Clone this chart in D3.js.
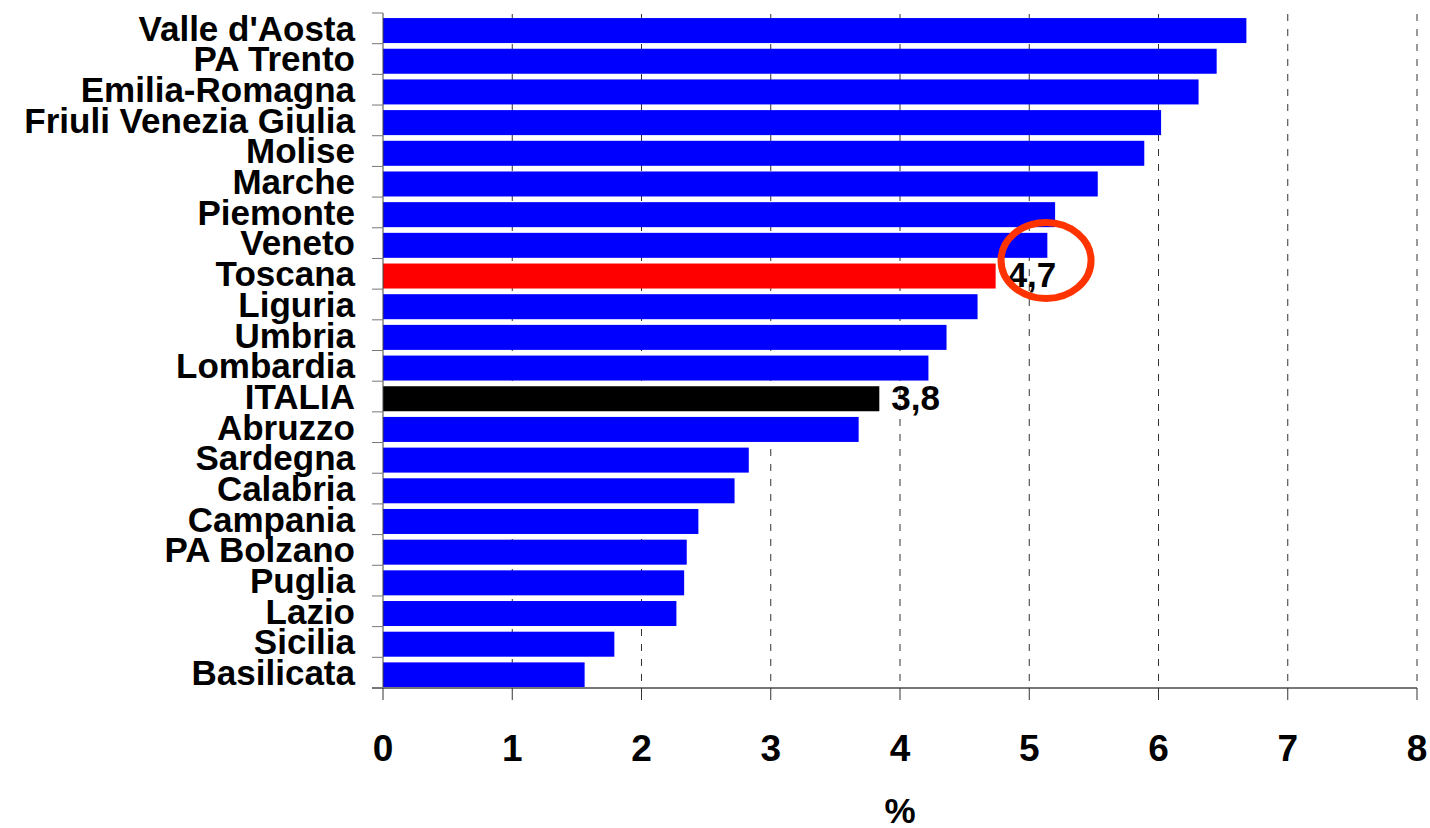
<!DOCTYPE html>
<html>
<head>
<meta charset="utf-8">
<script src="https://cdn.jsdelivr.net/npm/d3@7"></script>
<style>
  body { margin: 0; background: #fff; }
  svg { display: block; font-family: "Liberation Sans", Arial, sans-serif; }
</style>
</head>
<body>
<svg id="chart" width="1430" height="828"></svg>
<script>
// data
var regions = ["Valle d'Aosta", "PA Trento", "Emilia-Romagna", "Friuli Venezia Giulia", "Molise",
  "Marche", "Piemonte", "Veneto", "Toscana", "Liguria", "Umbria", "Lombardia", "ITALIA",
  "Abruzzo", "Sardegna", "Calabria", "Campania", "PA Bolzano", "Puglia", "Lazio", "Sicilia", "Basilicata"];
var values = [6.68, 6.45, 6.31, 6.02, 5.89, 5.53, 5.20, 5.14, 4.74, 4.60, 4.36, 4.22, 3.84,
  3.68, 2.83, 2.72, 2.44, 2.35, 2.33, 2.27, 1.79, 1.56];
var labelled = ["Toscana", "ITALIA"];
var xTicks = [0, 1, 2, 3, 4, 5, 6, 7, 8];

var data = regions.map(function(r, i) { return { name: r, value: values[i] }; });

var svg = d3.select("#chart"),
  plotLeft = 383, plotRight = 1417, plotTop = 13, plotBottom = 688;

var x = d3.scaleLinear().domain([0, 8]).range([plotLeft, plotRight]);
var y = d3.scaleBand().domain(regions).range([plotTop, plotBottom]).padding(0);
var bw = y.bandwidth();

function barColor(d) {
  if (d.name == "Toscana") return "#ff0000";
  if (d.name == "ITALIA") return "#000000";
  return "#0000ff";
}

// dashed gridlines
svg.append("g")
  .selectAll("line")
  .data(xTicks.slice(1))
  .enter()
  .append("line")
  .attr("x1", function(d) { return x(d); })
  .attr("x2", function(d) { return x(d); })
  .attr("y1", plotTop + 1)
  .attr("y2", plotBottom)
  .attr("stroke", "#333")
  .attr("stroke-width", 1)
  .attr("stroke-dasharray", "7,8");

// bars
svg.append("g")
  .selectAll("rect")
  .data(data)
  .enter()
  .append("rect")
  .attr("x", x(0))
  .attr("y", function(d) { return y(d.name) + bw * 0.165; })
  .attr("width", function(d) { return x(d.value) - x(0); })
  .attr("height", bw * 0.815)
  .attr("fill", barColor);

// y axis: line and ticks between categories
var yAxis = svg.append("g");
yAxis.append("line")
  .attr("x1", plotLeft).attr("x2", plotLeft)
  .attr("y1", plotTop).attr("y2", plotBottom)
  .attr("stroke", "#444");
yAxis.selectAll(".tick")
  .data(regions)
  .enter()
  .append("line")
  .attr("x1", plotLeft - 11).attr("x2", plotLeft)
  .attr("y1", function(d) { return y(d); })
  .attr("y2", function(d) { return y(d); })
  .attr("stroke", "#777");

// category labels
svg.append("g")
  .selectAll("text")
  .data(regions)
  .enter()
  .append("text")
  .attr("x", 355)
  .attr("y", function(d) { return y(d) + bw - 3; })
  .attr("text-anchor", "end")
  .attr("font-size", "35px")
  .attr("font-weight", "bold")
  .attr("fill", "#000")
  .text(function(d) { return d; });

// x axis
var xAxis = svg.append("g");
xAxis.append("line")
  .attr("x1", plotLeft - 11).attr("x2", plotRight)
  .attr("y1", plotBottom).attr("y2", plotBottom)
  .attr("stroke", "#777")
  .attr("stroke-width", 2);
xAxis.selectAll(".tick")
  .data(xTicks)
  .enter()
  .append("line")
  .attr("x1", function(d) { return x(d); })
  .attr("x2", function(d) { return x(d); })
  .attr("y1", plotBottom).attr("y2", plotBottom + 12)
  .attr("stroke", "#333");
xAxis.selectAll("text")
  .data(xTicks)
  .enter()
  .append("text")
  .attr("x", function(d) { return x(d); })
  .attr("y", 761)
  .attr("text-anchor", "middle")
  .attr("font-size", "37px")
  .attr("font-weight", "bold")
  .text(function(d) { return d; });

svg.append("text")
  .attr("x", (plotLeft + plotRight) / 2)
  .attr("y", 823)
  .attr("text-anchor", "middle")
  .attr("font-size", "35px")
  .attr("font-weight", "bold")
  .text("%");

// value labels
var fmt = function(v) { return d3.format(".1f")(v).replace(".", ","); };
svg.append("g")
  .selectAll("text")
  .data(data.filter(function(d) { return labelled.indexOf(d.name) >= 0; }))
  .enter()
  .append("text")
  .attr("x", function(d) { return x(d.value) + 12; })
  .attr("y", function(d) { return y(d.name) + bw - 2; })
  .attr("font-size", "35px")
  .attr("font-weight", "bold")
  .text(function(d) { return fmt(d.value); });

// red ellipse annotation
svg.append("ellipse")
  .attr("cx", x(5.13))
  .attr("cy", y("Toscana") + 2)
  .attr("rx", 45)
  .attr("ry", 38)
  .attr("fill", "none")
  .attr("stroke", "#ff3300")
  .attr("stroke-width", 7);
</script>
</body>
</html>
